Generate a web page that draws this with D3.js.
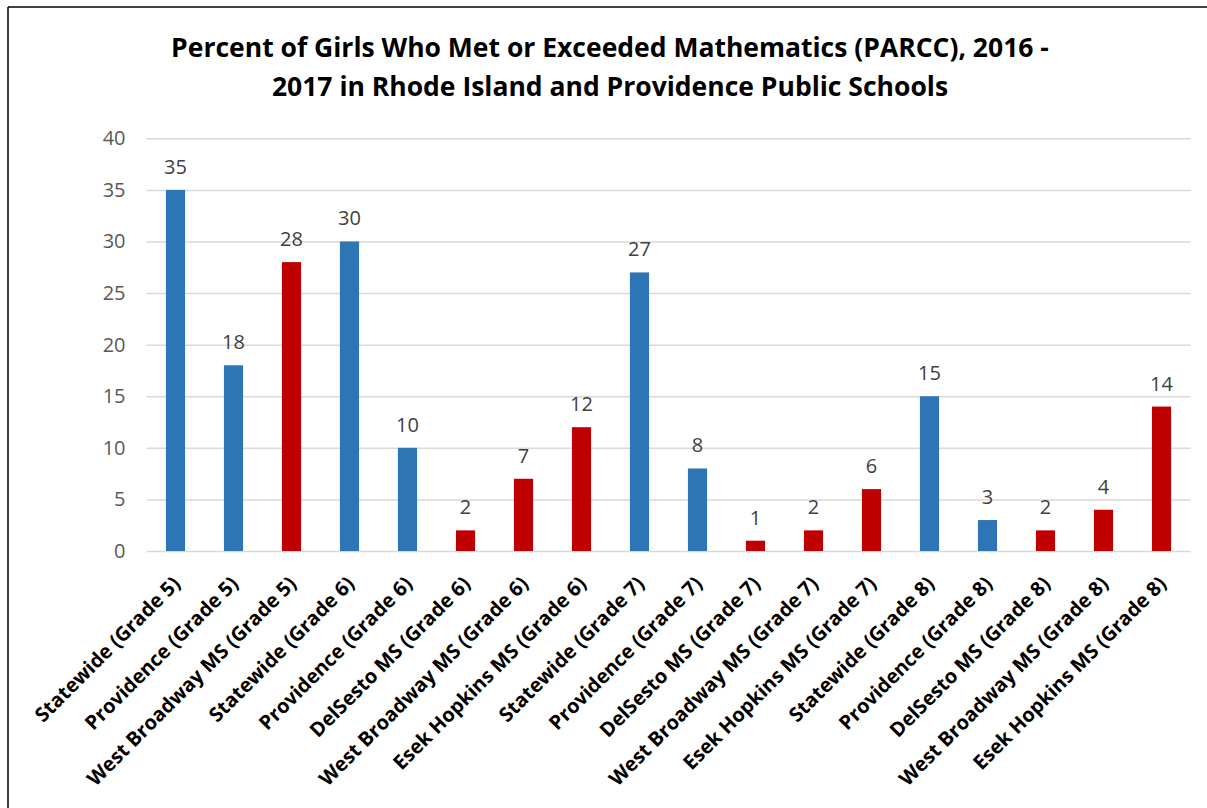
<!DOCTYPE html>
<html>
<head>
<meta charset="utf-8">
<script src="https://cdn.jsdelivr.net/npm/d3@7"></script>
<style>
  html, body { margin: 0; padding: 0; background: #fff; }
  svg { display: block; }
</style>
</head>
<body>
<svg id="chart" width="1207" height="808"></svg>
<script>
const categories = [
  "Statewide (Grade 5)", "Providence (Grade 5)", "West Broadway MS (Grade 5)",
  "Statewide (Grade 6)", "Providence (Grade 6)", "DelSesto MS (Grade 6)",
  "West Broadway MS (Grade 6)", "Esek Hopkins MS (Grade 6)",
  "Statewide (Grade 7)", "Providence (Grade 7)", "DelSesto MS (Grade 7)",
  "West Broadway MS (Grade 7)", "Esek Hopkins MS (Grade 7)",
  "Statewide (Grade 8)", "Providence (Grade 8)", "DelSesto MS (Grade 8)",
  "West Broadway MS (Grade 8)", "Esek Hopkins MS (Grade 8)"
];
const values = [35, 18, 28, 30, 10, 2, 7, 12, 27, 8, 1, 2, 6, 15, 3, 2, 4, 14];
const groups = ["area", "area", "school", "area", "area", "school", "school", "school",
  "area", "area", "school", "school", "school", "area", "area", "school", "school", "school"];
const yTicks = [0, 5, 10, 15, 20, 25, 30, 35, 40];
const titleLines = [
  "Percent of Girls Who Met or Exceeded Mathematics (PARCC), 2016 -",
  "2017 in Rhode Island and Providence Public Schools"
];

const svg = d3.select("#chart");
const font = "'Open Sans', 'DejaVu Sans', sans-serif";

// outer border (top and left only visible)
svg.append("line").attr("x1", 8).attr("x2", 1207).attr("y1", 7).attr("y2", 7)
  .attr("stroke", "#000").attr("stroke-width", 1.5);
svg.append("line").attr("x1", 8).attr("x2", 8).attr("y1", 7).attr("y2", 808)
  .attr("stroke", "#000").attr("stroke-width", 1.5);

const plotLeft = 146.5, plotRight = 1190.5, plotTop = 138.3, plotBottom = 551;

const x = d3.scaleBand().domain(categories).range([plotLeft, plotRight]).paddingInner(0.67).paddingOuter(0.335);
const y = d3.scaleLinear().domain([0, 40]).range([plotBottom, plotTop]);
const color = d3.scaleOrdinal().domain(["area", "school"]).range(["#2E75B6", "#C00000"]);

// gridlines
const grid = svg.append("g").attr("transform", `translate(${plotLeft},0)`)
  .call(d3.axisLeft(y).tickValues(yTicks).tickSize(-(plotRight - plotLeft)).tickFormat(""));
grid.select(".domain").remove();
grid.selectAll(".tick line").attr("stroke", "#d9d9d9").attr("stroke-width", 1.5);

// y labels
const yAxis = svg.append("g").attr("transform", `translate(${plotLeft},0)`)
  .call(d3.axisLeft(y).tickValues(yTicks).tickSize(0).tickPadding(21));
yAxis.select(".domain").remove();
yAxis.selectAll("text").attr("font-family", font).attr("font-size", 20).attr("fill", "#595959");

// bars
const data = categories.map((c, i) => ({ c, v: values[i], g: groups[i] }));
svg.append("g").selectAll("rect").data(data).join("rect")
  .attr("x", d => x(d.c)).attr("width", x.bandwidth())
  .attr("y", d => y(d.v)).attr("height", d => y(0) - y(d.v))
  .attr("fill", d => color(d.g));

// data labels
svg.append("g").selectAll("text").data(data).join("text")
  .attr("x", d => x(d.c) + x.bandwidth() / 2).attr("y", d => y(d.v) - 16)
  .attr("text-anchor", "middle").attr("font-family", font).attr("font-size", 20)
  .attr("fill", "#404040").text(d => d.v);

// x axis labels
const xAxis = svg.append("g").attr("transform", `translate(0,${plotBottom})`)
  .call(d3.axisBottom(x).tickSize(0).tickPadding(0));
xAxis.select(".domain").remove();
xAxis.selectAll("text")
  .attr("font-family", font).attr("font-size", 20).attr("font-weight", "bold").attr("fill", "#000")
  .attr("text-anchor", "end").attr("dy", null).attr("y", null)
  .attr("transform", "translate(6,34) rotate(-45)");

// title
svg.append("g").selectAll("text").data(titleLines).join("text")
  .attr("x", 610).attr("y", (d, i) => 57 + i * 39)
  .attr("text-anchor", "middle").attr("font-family", font).attr("font-weight", "bold")
  .attr("font-size", 26.5).attr("fill", "#000").text(d => d);
</script>
</body>
</html>
